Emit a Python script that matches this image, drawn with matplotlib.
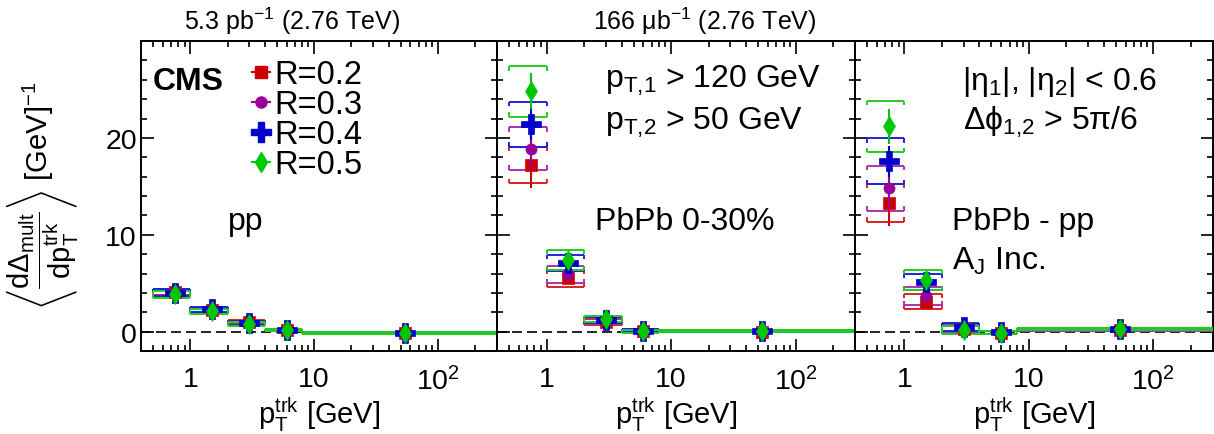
import numpy as np
import matplotlib
matplotlib.use("Agg")
import matplotlib.pyplot as plt
from matplotlib.lines import Line2D
from matplotlib.ticker import FixedLocator, LogLocator, NullFormatter, FixedFormatter

plt.rcParams['font.family'] = ['Liberation Sans', 'DejaVu Sans']
plt.rcParams['mathtext.fontset'] = 'custom'
plt.rcParams['mathtext.rm'] = 'Liberation Sans'
plt.rcParams['mathtext.it'] = 'Liberation Sans'
plt.rcParams['mathtext.bf'] = 'Liberation Sans:bold'
plt.rcParams['mathtext.default'] = 'regular'

W, H = 1214, 435

# track pT bins and the point positions inside them
bin_lo = [0.5, 1, 2, 4, 8]
bin_hi = [1, 2, 4, 8, 300]
x_pts = [0.75, 1.5, 3, 6, 54]

radii = ["R=0.2", "R=0.3", "R=0.4", "R=0.5"]
colors = ['#cc0000', '#990099', '#0000cc', '#00c800']
box_colors = ['#dd2222', '#b030b0', '#2222dd', '#22cc22']
markers = ['s', 'o', 'P', 'd']
msizes = [8, 8, 15, 10.5]

# pp
pp_val = [[4.1, 2.2, 0.95, 0.2, -0.1],
          [4.0, 2.2, 0.85, 0.15, -0.1],
          [4.0, 2.3, 0.9, 0.2, -0.1],
          [3.85, 2.1, 0.75, 0.15, -0.15]]
pp_stat = [[0.15, 0.1, 0.05, 0.03, 0.02]] * 4
pp_sys = [[0.35, 0.25, 0.2, 0.12, 0.08]] * 4

# PbPb 0-30%
pbpb_val = [[17.2, 5.5, 1.0, 0.1, 0.0],
            [18.9, 5.9, 1.1, 0.1, 0.0],
            [21.4, 7.1, 1.2, 0.1, 0.05],
            [24.8, 7.4, 1.3, 0.05, 0.05]]
pbpb_stat = [[2.4, 0.5, 0.15, 0.05, 0.03],
             [2.1, 0.5, 0.15, 0.05, 0.03],
             [1.6, 0.45, 0.15, 0.05, 0.03],
             [1.85, 0.45, 0.15, 0.05, 0.03]]
pbpb_sys = [[1.9, 0.85, 0.35, 0.15, 0.08],
            [2.2, 0.9, 0.35, 0.15, 0.08],
            [2.3, 0.85, 0.35, 0.15, 0.08],
            [2.6, 1.05, 0.35, 0.15, 0.08]]

# PbPb - pp
diff_val = [[13.3, 3.1, 0.3, -0.1, 0.2],
            [14.8, 3.7, 0.35, -0.1, 0.2],
            [17.6, 5.1, 0.45, -0.05, 0.25],
            [21.2, 5.3, 0.2, -0.1, 0.3]]
diff_stat = [[2.4, 0.5, 0.15, 0.05, 0.03],
             [2.1, 0.5, 0.15, 0.05, 0.03],
             [1.6, 0.45, 0.15, 0.05, 0.03],
             [1.8, 0.45, 0.15, 0.05, 0.03]]
diff_sys = [[1.95, 0.8, 0.4, 0.15, 0.1],
            [2.3, 0.95, 0.4, 0.15, 0.1],
            [2.35, 0.85, 0.4, 0.15, 0.1],
            [2.65, 1.05, 0.4, 0.15, 0.1]]


def draw_sys(ax, y, s, color):
    """Bracket-style systematic boxes spanning each bin."""
    for lo, hi, yy, ss in zip(bin_lo, bin_hi, y, s):
        t = min(0.45, ss)
        top, bot = yy + ss, yy - ss
        kw = dict(color=color, lw=1.4, solid_capstyle='butt', zorder=3)
        ax.plot([lo, hi], [top, top], **kw)
        ax.plot([lo, hi], [bot, bot], **kw)
        for xe in (lo, hi):
            ax.plot([xe, xe], [top, top - t], **kw)
            ax.plot([xe, xe], [bot, bot + t], **kw)


def draw_panel(ax, vals, stats, syss):
    ax.axhline(0, color='k', lw=1.2, ls=(0, (6, 3)), zorder=2)
    for i in range(4):
        draw_sys(ax, vals[i], syss[i], box_colors[i])
    for i in range(4):
        ax.errorbar(x_pts, vals[i], yerr=stats[i], fmt='none',
                    ecolor=colors[i], elinewidth=1.5, capsize=0, zorder=5 + i)
        ax.plot(x_pts, vals[i], ls='none', marker=markers[i], ms=msizes[i],
                color=colors[i], mec=colors[i], mew=0.5, zorder=5 + i)

    ax.set_xscale('log')
    ax.set_xlim(0.4, 300)
    ax.set_ylim(-2, 30)
    ax.xaxis.set_major_locator(FixedLocator([1, 10, 100]))
    ax.xaxis.set_major_formatter(FixedFormatter(['1', '10', '10$^{2}$']))
    ax.xaxis.set_minor_locator(LogLocator(base=10, subs=np.arange(2, 10)))
    ax.xaxis.set_minor_formatter(NullFormatter())
    ax.yaxis.set_major_locator(FixedLocator([0, 10, 20]))
    ax.yaxis.set_minor_locator(FixedLocator(np.arange(-2, 31, 2)))
    ax.tick_params(which='both', direction='in', top=True, right=True,
                   labelsize=20.5, width=1.2)
    ax.tick_params(which='major', length=9)
    ax.tick_params(which='minor', length=4.5)
    ax.tick_params(axis='x', which='both', pad=11)
    ax.tick_params(axis='y', pad=3)
    for sp in ax.spines.values():
        sp.set_linewidth(1.4)
    ax.set_xlabel(r'$p_{T}^{trk}$ [GeV]', fontsize=21, labelpad=-1)


fig = plt.figure(figsize=(W / 100, H / 100), dpi=100)
bottom, height = (H - 352) / H, (352 - 42) / H
ax1 = fig.add_axes([141 / W, bottom, 356 / W, height])
ax2 = fig.add_axes([497 / W, bottom, 358 / W, height])
ax3 = fig.add_axes([855 / W, bottom, 357.5 / W, height])

draw_panel(ax1, pp_val, pp_stat, pp_sys)
draw_panel(ax2, pbpb_val, pbpb_stat, pbpb_sys)
draw_panel(ax3, diff_val, diff_stat, diff_sys)
ax2.tick_params(axis='y', labelleft=False)
ax3.tick_params(axis='y', labelleft=False)

ax1.set_ylabel(r'$\left\langle\dfrac{d\Delta_{mult}}{dp_{T}^{trk}}\right\rangle$ [GeV]$^{-1}$',
               fontsize=21, va='center')
ax1.yaxis.set_label_coords((42 - 141) / 356, (352 - 196) / 310)


def ftext(x, y, s, **kw):
    fig.text(x / W, 1 - y / H, s, **kw)


ftext(292, 21, r'5.3 pb$^{-1}$ (2.76 TeV)', fontsize=18, ha='center', va='center')
ftext(705, 21, r'166 $\mu$b$^{-1}$ (2.76 TeV)', fontsize=18, ha='center', va='center')

ftext(188, 82, 'CMS', fontsize=23, fontweight='bold', ha='center', va='center')

handles = [Line2D([], [], color=colors[i], marker=markers[i], ms=msizes[i],
                  lw=1.5, mec=colors[i]) for i in range(4)]
ax1.legend(handles, radii, loc='upper left',
           bbox_to_anchor=((252 - 141) / 356, 1 - 18 / 310),
           frameon=False, fontsize=23.5, handlelength=0.55, handletextpad=0.15,
           labelspacing=-0.03, borderaxespad=0, borderpad=0)

ftext(228, 230, 'pp', fontsize=23, va='baseline')
ftext(605, 88, r'p$_{T{,}1}$ > 120 GeV', fontsize=23, va='baseline')
ftext(605, 130, r'p$_{T{,}2}$ > 50 GeV', fontsize=23, va='baseline')
ftext(595, 230, 'PbPb 0-30%', fontsize=23, va='baseline')
ftext(962, 90, r'|$\eta_{1}$|, |$\eta_{2}$| < 0.6', fontsize=23, va='baseline')
ftext(963, 130, r'$\Delta\phi_{1{,}2}$ > 5$\pi$/6', fontsize=23, va='baseline')
ftext(952, 230, 'PbPb - pp', fontsize=23, va='baseline')
ftext(952, 270, r'A$_{J}$ Inc.', fontsize=23, va='baseline')

fig.savefig('out.png', dpi=100)
